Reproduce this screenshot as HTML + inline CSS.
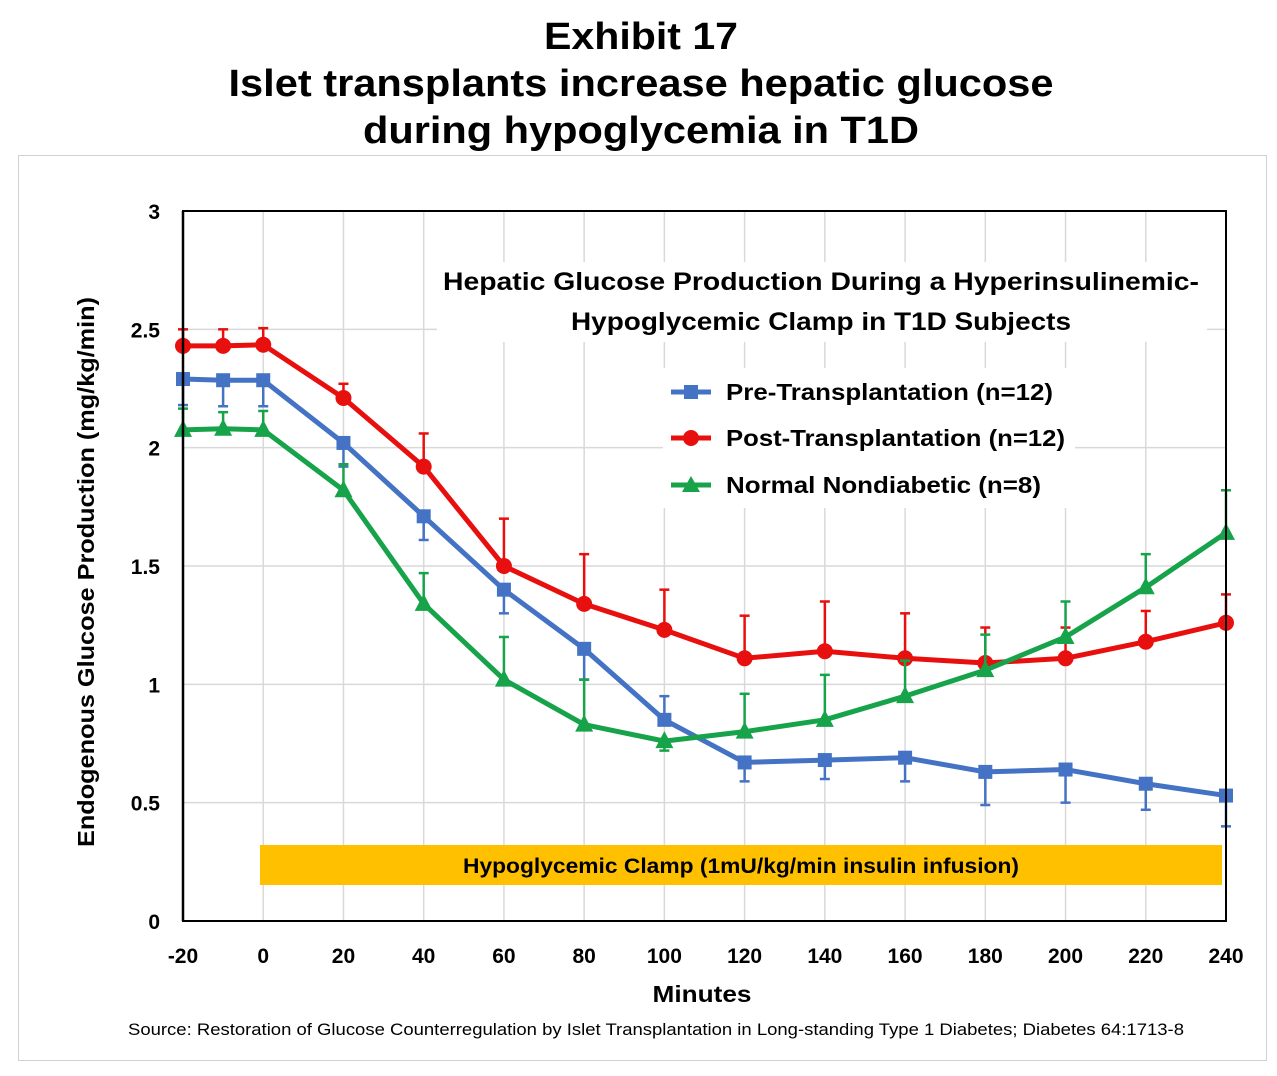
<!DOCTYPE html>
<html><head><meta charset="utf-8"><style>
body{margin:0;background:#fff;width:1277px;height:1071px;overflow:hidden;font-family:"Liberation Sans",sans-serif}
</style></head><body>
<svg width="1277" height="1071" xmlns="http://www.w3.org/2000/svg" id="svg">
<text x="641" y="49" text-anchor="middle" font-size="38" font-weight="bold" textLength="194" lengthAdjust="spacingAndGlyphs">Exhibit 17</text>
<text x="641" y="96" text-anchor="middle" font-size="38" font-weight="bold" textLength="825" lengthAdjust="spacingAndGlyphs">Islet transplants increase hepatic glucose</text>
<text x="641" y="143" text-anchor="middle" font-size="38" font-weight="bold" textLength="556" lengthAdjust="spacingAndGlyphs">during hypoglycemia in T1D</text>
<rect x="18.5" y="155.5" width="1248" height="905" fill="none" stroke="#d0d0d0"/>
<g id="grid"></g>
<rect x="260" y="845" width="962" height="40" fill="#FFC000"/>
<text x="741" y="873" text-anchor="middle" font-size="21" font-weight="bold" textLength="556" lengthAdjust="spacingAndGlyphs">Hypoglycemic Clamp  (1mU/kg/min insulin infusion)</text>
<g id="series"></g>
<rect x="437" y="262" width="770" height="80" fill="#fff"/>
<text x="821" y="290" text-anchor="middle" font-size="25" font-weight="bold" textLength="756" lengthAdjust="spacingAndGlyphs">Hepatic Glucose Production During a Hyperinsulinemic-</text>
<text x="821" y="330" text-anchor="middle" font-size="25" font-weight="bold" textLength="500" lengthAdjust="spacingAndGlyphs">Hypoglycemic Clamp in T1D Subjects</text>
<g>
<rect x="663" y="368" width="412" height="140" fill="#fff"/>
<line x1="671" y1="392" x2="711" y2="392" stroke="#4472C4" stroke-width="5"/><rect x="684" y="385" width="14" height="14" fill="#4472C4"/>
<text x="726" y="400" font-size="23" font-weight="bold" textLength="327" lengthAdjust="spacingAndGlyphs">Pre-Transplantation (n=12)</text>
<line x1="671" y1="438" x2="711" y2="438" stroke="#E8100E" stroke-width="5"/><circle cx="691" cy="438" r="8" fill="#E8100E"/>
<text x="726" y="446" font-size="23" font-weight="bold" textLength="339" lengthAdjust="spacingAndGlyphs">Post-Transplantation (n=12)</text>
<line x1="671" y1="485" x2="711" y2="485" stroke="#16A34A" stroke-width="5"/><polygon points="691,476 700,492 682,492" fill="#16A34A"/>
<text x="726" y="493" font-size="23" font-weight="bold" textLength="315" lengthAdjust="spacingAndGlyphs">Normal Nondiabetic (n=8)</text>
</g>
<line x1="183" y1="211" x2="183" y2="921" stroke="#000" stroke-width="2.5"/>
<rect x="183" y="211" width="1043" height="710" fill="none" stroke="#000" stroke-width="2"/>
<g id="ticks"></g>
<text x="702" y="1002" text-anchor="middle" font-size="23" font-weight="bold" textLength="99" lengthAdjust="spacingAndGlyphs">Minutes</text>
<text transform="translate(94,572) rotate(-90)" text-anchor="middle" font-size="23" font-weight="bold" textLength="550" lengthAdjust="spacingAndGlyphs">Endogenous Glucose Production (mg/kg/min)</text>
<text x="656" y="1035" text-anchor="middle" font-size="17" textLength="1056" lengthAdjust="spacingAndGlyphs">Source:  Restoration of Glucose Counterregulation by Islet Transplantation in Long-standing Type 1 Diabetes; Diabetes 64:1713-8</text>
</svg>
<script>
const times=[-20,-10,0,20,40,60,80,100,120,140,160,180,200,220,240];
const preVals=[2.29,2.285,2.285,2.02,1.71,1.40,1.15,0.85,0.67,0.68,0.69,0.63,0.64,0.58,0.53];
const preErr=[-0.11,-0.11,-0.11,-0.1,-0.1,-0.1,-0.13,0.1,-0.08,-0.08,-0.1,-0.14,-0.14,-0.11,-0.13];
const postVals=[2.43,2.43,2.435,2.21,1.92,1.50,1.34,1.23,1.11,1.14,1.11,1.09,1.11,1.18,1.26];
const postErr=[0.07,0.07,0.07,0.06,0.14,0.2,0.21,0.17,0.18,0.21,0.19,0.15,0.13,0.13,0.12];
const normVals=[2.075,2.08,2.075,1.82,1.34,1.02,0.83,0.76,0.80,0.85,0.95,1.06,1.20,1.41,1.64];
const normErr=[0.09,0.07,0.08,0.11,0.13,0.18,0.19,-0.04,0.16,0.19,0.15,0.15,0.15,0.14,0.18];
const xTicks=[-20,0,20,40,60,80,100,120,140,160,180,200,220,240];
const yTicks=[0,0.5,1,1.5,2,2.5,3];
const NS="http://www.w3.org/2000/svg";
const X=t=>183+(t+20)/260*1043;
const Y=v=>921-v/3*710;
function mk(tag,attrs,parent){const e=document.createElementNS(NS,tag);for(const k in attrs)e.setAttribute(k,attrs[k]);document.getElementById(parent).appendChild(e);return e;}
yTicks.forEach(v=>{
  if(v>0){const g=mk('line',{x1:183,x2:1226,y1:Y(v),y2:Y(v),stroke:'#d9d9d9','stroke-width':1.5},'grid');
  
  }
  const t=mk('text',{x:160,y:Y(v)+8,'text-anchor':'end','font-size':21,'font-weight':'bold'},'ticks');t.textContent=v;
  
  
});
xTicks.forEach(v=>{
  if(v>-20&&v<240){const g=mk('line',{x1:X(v),x2:X(v),y1:211,y2:921,stroke:'#d9d9d9','stroke-width':1.5},'grid');
  
  }
  const t=mk('text',{x:X(v),y:963,'text-anchor':'middle','font-size':21,'font-weight':'bold'},'ticks');t.textContent=v;
  
  
});
function series(vals,errs,color,shape,name){
  vals.forEach((v,i)=>{const x=X(times[i]),y1=Y(v),y2=Y(v+errs[i]);
    const l=mk('line',{x1:x,x2:x,y1:y1,y2:y2,stroke:color,'stroke-width':2.5},'series');
    
    
    const c=mk('line',{x1:x-5,x2:x+5,y1:y2,y2:y2,stroke:color,'stroke-width':2.5},'series');
    
    });
  const p=mk('polyline',{points:vals.map((v,i)=>X(times[i])+','+Y(v)).join(' '),fill:'none',stroke:color,'stroke-width':5,'stroke-linejoin':'round'},'series');
  
  
  vals.forEach((v,i)=>{const x=X(times[i]),y=Y(v);let m;
    if(shape==='sq')m=mk('rect',{x:x-7,y:y-7,width:14,height:14,fill:color},'series');
    else if(shape==='c')m=mk('circle',{cx:x,cy:y,r:8,fill:color},'series');
    else m=mk('polygon',{points:`${x},${y-10} ${x+9},${y+7} ${x-9},${y+7}`,fill:color},'series');
    
    });
}
series(preVals,preErr,'#4472C4','sq','pre');
series(postVals,postErr,'#E8100E','c','post');
series(normVals,normErr,'#16A34A','t','normal');
</script>
</body></html>
